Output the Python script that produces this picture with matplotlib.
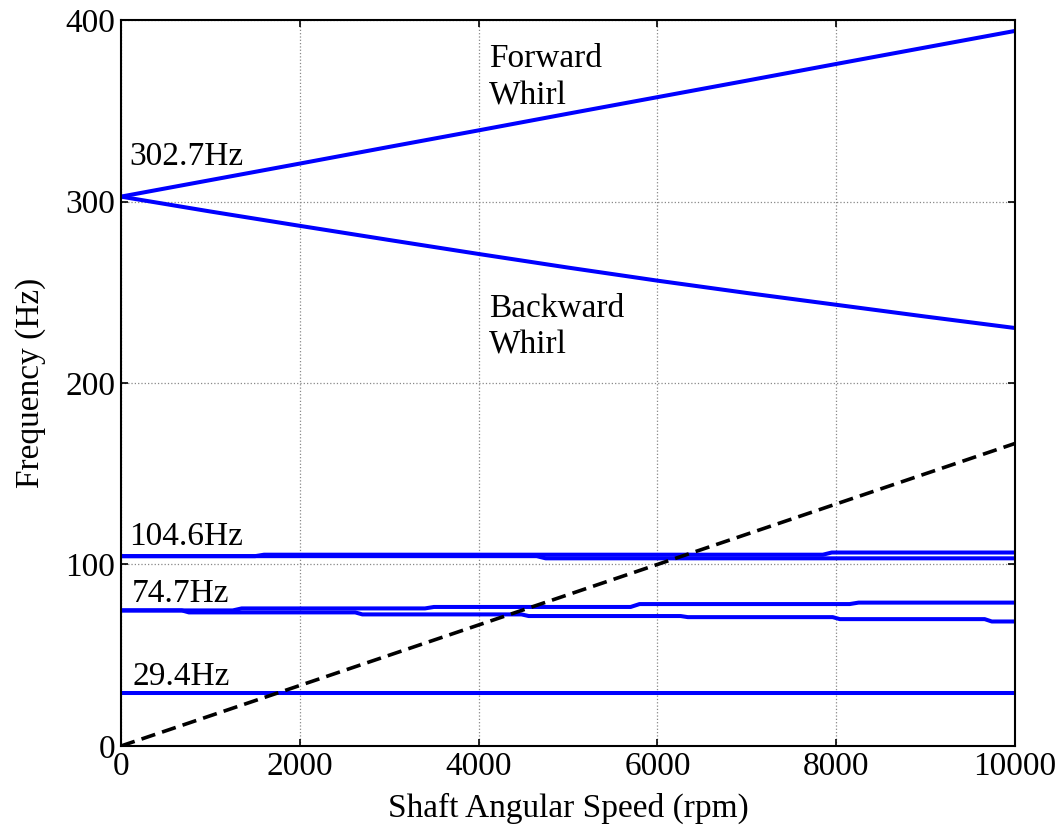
import numpy as np
import matplotlib.pyplot as plt

# Campbell diagram data
rpm_whirl = [0, 1000, 2000, 3000, 4000, 5000, 6000, 7000, 8000, 9000, 10000]
forward_whirl = [302.7, 311.8, 320.9, 330.1, 339.2, 348.4, 357.5, 366.6, 375.8, 384.9, 394.0]
backward_whirl = [302.7, 294.5, 286.6, 278.8, 271.1, 263.6, 256.4, 249.6, 243.1, 236.6, 230.3]

# stepped branches: (rpm, Hz)
rpm_104_up = [0, 1500, 1600, 7850, 7950, 10000]
hz_104_up = [104.6, 104.6, 105.4, 105.4, 106.6, 106.6]
rpm_104_lo = [0, 4650, 4750, 10000]
hz_104_lo = [104.6, 104.6, 103.4, 103.4]

rpm_74_up = [0, 1250, 1350, 3400, 3500, 5700, 5800, 8150, 8250, 10000]
hz_74_up = [74.7, 74.7, 75.8, 75.8, 76.6, 76.6, 78.2, 78.2, 79.0, 79.0]
rpm_74_lo = [0, 680, 760, 2620, 2700, 4480, 4560, 6260, 6340, 7960, 8040, 9660, 9740, 10000]
hz_74_lo = [74.7, 74.7, 73.6, 73.6, 72.5, 72.5, 71.6, 71.6, 71.0, 71.0, 69.9, 69.9, 68.6, 68.6]

rpm_29 = [0, 10000]
hz_29 = [29.4, 29.4]

rpm_1x = [0, 10000]
hz_1x = [0, 166.7]

blue = (0, 0, 1)

plt.rcParams['font.family'] = ['Liberation Serif', 'DejaVu Serif']
plt.rcParams['font.size'] = 24

fig = plt.figure(figsize=(10.64, 8.31), dpi=100)
ax = fig.add_axes([0.1137, 0.1023, 0.8403, 0.8736])

lw = 2.9
ax.plot(rpm_whirl, forward_whirl, color=blue, lw=lw)
ax.plot(rpm_whirl, backward_whirl, color=blue, lw=lw)
ax.plot(rpm_104_up, hz_104_up, color=blue, lw=lw)
ax.plot(rpm_104_lo, hz_104_lo, color=blue, lw=lw)
ax.plot(rpm_74_up, hz_74_up, color=blue, lw=lw)
ax.plot(rpm_74_lo, hz_74_lo, color=blue, lw=lw)
ax.plot(rpm_29, hz_29, color=blue, lw=lw)
ax.plot(rpm_1x, hz_1x, color='k', lw=2.6, ls=(0, (4, 2)))

ax.text(90, 320.1, '302.7Hz', va='baseline', ha='left')
ax.text(4116, 374.1, 'Forward', va='baseline', ha='left')
ax.text(4116, 353.2, 'Whirl', va='baseline', ha='left')
ax.text(4116, 236.4, 'Backward', va='baseline', ha='left')
ax.text(4116, 216.5, 'Whirl', va='baseline', ha='left')
ax.text(90, 110.7, '104.6Hz', va='baseline', ha='left')
ax.text(123, 79.5, '74.7Hz', va='baseline', ha='left')
ax.text(134, 33.6, '29.4Hz', va='baseline', ha='left')

ax.set_xlim(0, 10000)
ax.set_ylim(0, 400)
ax.set_xticks([0, 2000, 4000, 6000, 8000, 10000])
ax.set_yticks([0, 100, 200, 300, 400])
ax.grid(True, color='#888888', ls=':', lw=0.9)
ax.tick_params(direction='in', top=True, right=True, length=5, width=1.2, pad=4)
for s in ax.spines.values():
    s.set_linewidth(1.5)

ax.set_xlabel('Shaft Angular Speed (rpm)', labelpad=8)
ax.set_ylabel('Frequency (Hz)', labelpad=14)

fig.savefig('out.png', dpi=100)
